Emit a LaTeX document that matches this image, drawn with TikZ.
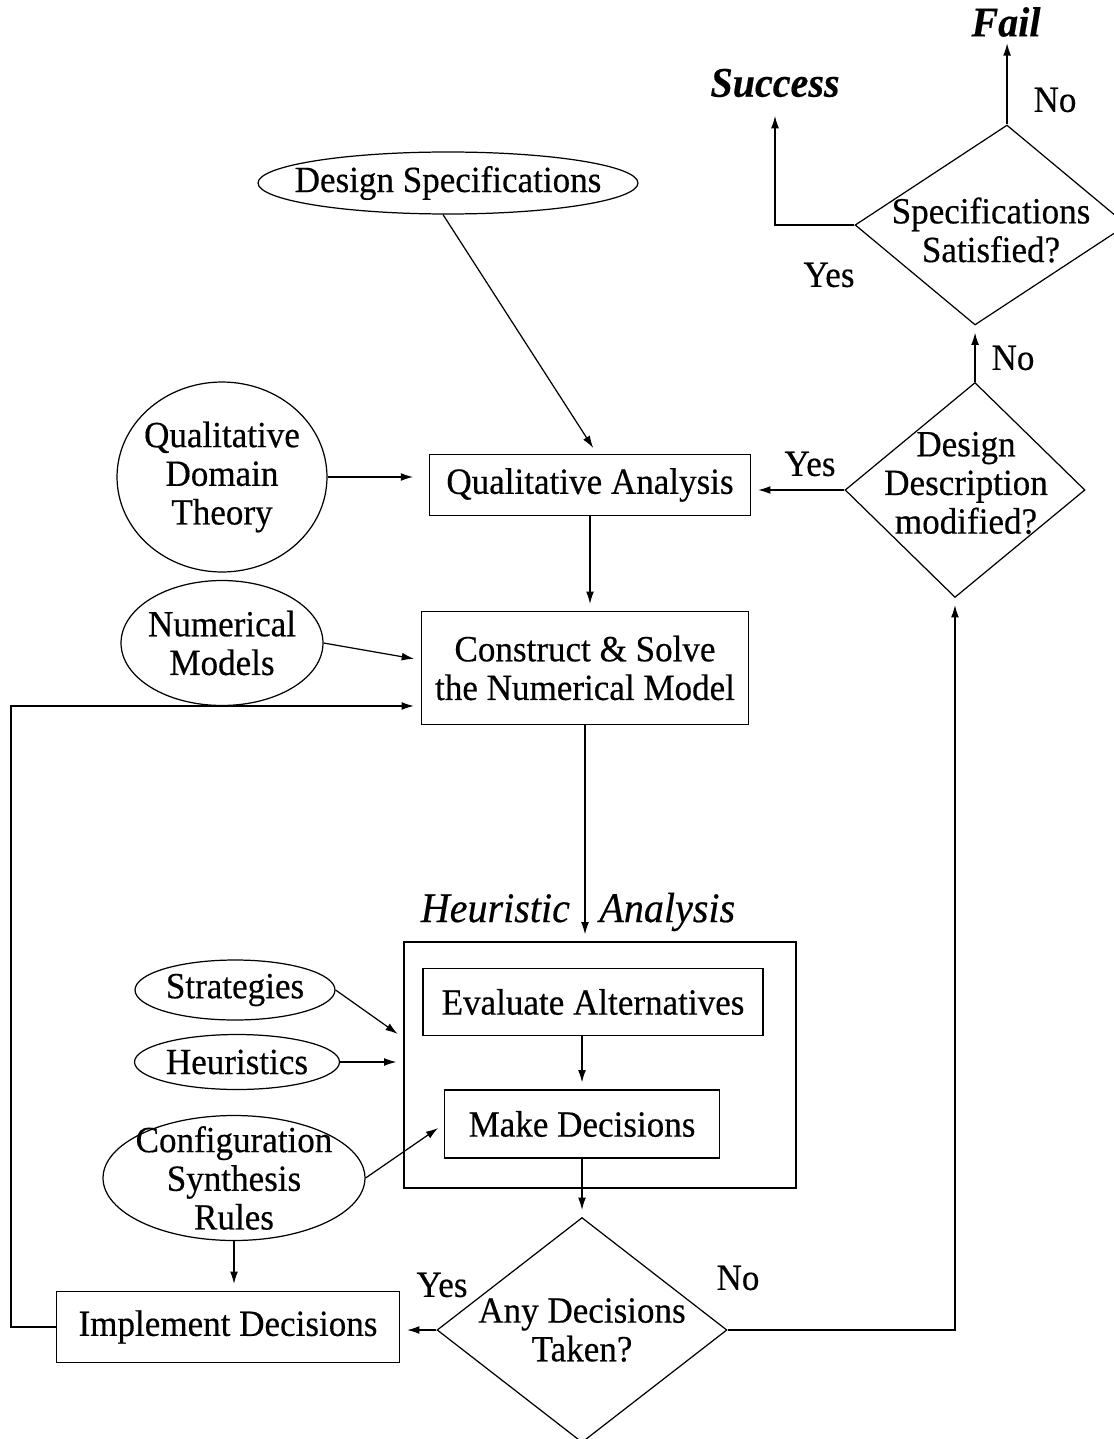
\documentclass[tikz,border=0pt]{standalone}
\usepackage{fontspec}
\setmainfont{Liberation Serif}[FakeStretch=0.95,FakeBold=0.4]
\usetikzlibrary{arrows.meta,shapes.geometric}

\begin{document}
\begin{tikzpicture}[
  x=0.02cm,y=-0.02cm,
  font=\fontsize{21}{22}\selectfont,
  line width=0.7pt,
  >={Latex[length=7pt,width=4.5pt]},
  proc/.style={draw,inner sep=0pt},
  oval/.style={draw,ellipse,inner sep=0pt},
  decision/.style={draw,diamond,inner sep=0pt},
  texto/.style={align=center,inner sep=0pt},
  titulo/.style={font=\fontsize{24}{25}\selectfont\itshape},
  arr/.style={->,shorten >=4pt}
  ]

  \useasboundingbox (0,0) rectangle (1113,1439);

  % decisions on the right (slanted as in the drawing)
  \node[titulo] (fail) at (1006,22) {\textbf{Fail}};
  \node[titulo] (success) at (775,83) {\textbf{Success}};
  \begin{scope}[shift={(991,225)},xslant=0.16]
    \node[decision,transform shape,minimum width=5.44cm,minimum height=4cm] (sat) at (0,0) {};
  \end{scope}
  \node[texto] (sattxt) at (991,230) {Specifications\\Satisfied?};
  \begin{scope}[shift={(965,490)},xslant=0.093]
    \node[decision,transform shape,minimum width=4.8cm,minimum height=4.3cm] (dd) at (0,0) {};
  \end{scope}
  \node[texto] (ddtxt) at (966,483) {Design\\Description\\modified?};

  % main chain
  \node[oval,minimum width=7.6cm,minimum height=1.24cm,
    label={[texto]center:Design Specifications}] (ds) at (448,183) {};
  \node[oval,minimum width=4.2cm,minimum height=3.8cm,
    label={[texto]center:Qualitative\\Domain\\Theory}] (qdt) at (222,477) {};
  \node[proc,minimum width=6.42cm,minimum height=1.22cm] (qa) at (590,485) {Qualitative Analysis};
  \node[oval,minimum width=4.04cm,minimum height=2.5cm,
    label={[texto]center:Numerical\\Models}] (nm) at (222,643) {};
  \node[proc,align=center,minimum width=6.54cm,minimum height=2.26cm] (cs) at (585,668)
    {Construct \& Solve\\the Numerical Model};

  % heuristic analysis
  \node[titulo] (hatitle) at (578,912) {Heuristic\hspace{0.7em}Analysis};
  \node[proc,minimum width=7.84cm,minimum height=4.92cm] (ha) at (600,1065) {};
  \node[proc,minimum width=6.8cm,minimum height=1.34cm] (ea) at (593,1002) {Evaluate Alternatives};
  \node[proc,minimum width=5.5cm,minimum height=1.36cm] (md) at (582,1124) {Make Decisions};
  \node[oval,minimum width=4cm,minimum height=1.2cm,
    label={[texto]center:Strategies}] (strat) at (235,990) {};
  \node[oval,minimum width=4.1cm,minimum height=1.1cm,
    label={[texto]center:Heuristics}] (heur) at (237,1062) {};
  \node[oval,minimum width=5.24cm,minimum height=2.5cm,
    label={[texto]center:Configuration\\Synthesis\\Rules}] (csr) at (234,1178) {};

  % bottom
  \node[proc,minimum width=6.86cm,minimum height=1.42cm] (impl) at (228,1327) {Implement Decisions};
  \node[decision,minimum width=5.8cm,minimum height=4.5cm,
    label={[texto]center:Any Decisions\\Taken?}] (any) at (582,1330) {};

  % yes / no
  \node (yes1) at (829,275) {Yes};
  \node (no1) at (1055,100) {No};
  \node (no2) at (1013,358) {No};
  \node (yes2) at (810,464) {Yes};
  \node (yes3) at (442,1285) {Yes};
  \node (no3) at (738,1278) {No};

  \draw[->] (sat.north) -- (sat.north |- fail.south);
  \draw[->,shorten >=7pt] (sat.west) -| (success.south);
  \draw[arr] (dd.north) -- (dd.north |- sat.south);
  \draw[arr] (dd.west) -- (dd.west -| qa.east);
  \draw[arr] ([xshift=-0.1cm]ds.south) -- ([xshift=0.14cm]qa.north);
  \draw[->,shorten >=9pt] (qdt.east) -- (qdt.east -| qa.west);
  \draw[arr] (qa.south) -- (qa.south |- cs.north);
  \draw[arr] (nm.east) -- ([yshift=0.16cm]cs.west);
  \draw[arr] (impl.west) -- ++(-45,0) |- ([yshift=-0.76cm]cs.west);
  \draw[arr] (cs.south) -- (cs.south |- ha.north);
  \draw[arr] (md.north |- ea.south) -- (md.north);
  \draw[arr] (strat.east) -- ([yshift=0.54cm]ha.west);
  \draw[arr] (heur.east) -- (heur.east -| ha.west);
  \draw[arr] (csr.east) -- (md.west);
  \draw[arr] (csr.south) -- (csr.south |- impl.north);
  \draw[arr] (md.south) -- (any.north);
  \draw[arr] (any.west) -- (any.west -| impl.east);
  \draw[arr] (any.east) -| (dd.south);

\end{tikzpicture}
\end{document}
